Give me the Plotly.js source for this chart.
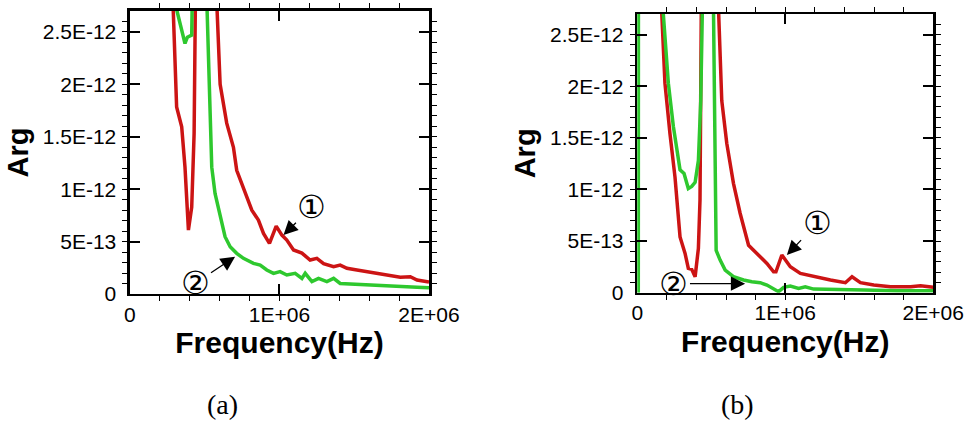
<!DOCTYPE html>
<html>
<head>
<meta charset="utf-8">
<script src="https://cdn.plot.ly/plotly-3.0.1.min.js"></script>
<style>html,body{margin:0;padding:0;background:#fff;}#chart{width:975px;height:426px;}</style>
</head>
<body>
<div id="chart"></div>
<script>
// ---- data (a) ----
const redAx = [270e3, 312e3, 346e3, 368e3, 391e3, 413e3, 429e3, 500e3, 580e3, 603e3, 647e3, 692e3, 714e3, 759e3, 815e3, 859e3, 893e3, 933e3, 978e3, 1016e3, 1049e3, 1094e3, 1150e3, 1205e3, 1250e3, 1295e3, 1362e3, 1406e3, 1451e3, 1518e3, 1585e3, 1652e3, 1719e3, 1808e3, 1875e3, 1920e3, 2000e3];
const redAy = [3.5e-12, 1.785e-12, 1.595e-12, 1.21e-12, 0.61e-12, 0.83e-12, 1.53e-12, 1.2e-11, 2.8e-12, 2.0e-12, 1.63e-12, 1.40e-12, 1.18e-12, 1.02e-12, 0.80e-12, 0.705e-12, 0.578e-12, 0.483e-12, 0.648e-12, 0.562e-12, 0.515e-12, 0.42e-12, 0.39e-12, 0.324e-12, 0.34e-12, 0.29e-12, 0.26e-12, 0.276e-12, 0.245e-12, 0.229e-12, 0.213e-12, 0.197e-12, 0.181e-12, 0.159e-12, 0.165e-12, 0.133e-12, 0.114e-12];
const greenAx = [280e3, 368e3, 384e3, 413e3, 424e3, 470e3, 515e3, 531e3, 547e3, 569e3, 603e3, 636e3, 670e3, 714e3, 759e3, 826e3, 871e3, 915e3, 960e3, 1004e3, 1049e3, 1105e3, 1150e3, 1172e3, 1217e3, 1261e3, 1317e3, 1362e3, 1406e3, 1473e3, 1585e3, 1696e3, 1808e3, 1920e3, 2000e3];
const greenAy = [2.9e-12, 2.39e-12, 2.45e-12, 2.47e-12, 3.5e-12, 1.5e-11, 2.75e-12, 1.85e-12, 1.21e-12, 0.96e-12, 0.737e-12, 0.546e-12, 0.451e-12, 0.388e-12, 0.34e-12, 0.292e-12, 0.276e-12, 0.229e-12, 0.197e-12, 0.213e-12, 0.181e-12, 0.197e-12, 0.149e-12, 0.197e-12, 0.118e-12, 0.149e-12, 0.118e-12, 0.149e-12, 0.10e-12, 0.095e-12, 0.086e-12, 0.076e-12, 0.064e-12, 0.064e-12, 0.06e-12];
// ---- data (b) ----
const redBx = [150e3, 187e3, 221e3, 255e3, 289e3, 323e3, 345e3, 368e3, 391e3, 413e3, 424e3, 490e3, 549e3, 571e3, 605e3, 650e3, 695e3, 752e3, 808e3, 876e3, 921e3, 937e3, 977e3, 1034e3, 1102e3, 1192e3, 1305e3, 1406e3, 1451e3, 1508e3, 1598e3, 1711e3, 1847e3, 1914e3, 2000e3];
const redBy = [3.2e-12, 2.03e-12, 1.54e-12, 1.12e-12, 0.54e-12, 0.38e-12, 0.235e-12, 0.226e-12, 0.155e-12, 0.43e-12, 0.90e-12, 1.5e-11, 2.75e-12, 1.86e-12, 1.445e-12, 1.06e-12, 0.77e-12, 0.46e-12, 0.38e-12, 0.284e-12, 0.203e-12, 0.203e-12, 0.365e-12, 0.252e-12, 0.187e-12, 0.155e-12, 0.123e-12, 0.097e-12, 0.155e-12, 0.097e-12, 0.074e-12, 0.058e-12, 0.058e-12, 0.068e-12, 0.052e-12];
const greenBx = [7e3, 10e3, 176e3, 210e3, 244e3, 266e3, 289e3, 316e3, 345e3, 368e3, 391e3, 413e3, 429e3, 440e3, 480e3, 515e3, 526e3, 533e3, 560e3, 594e3, 650e3, 718e3, 774e3, 831e3, 876e3, 921e3, 955e3, 989e3, 1034e3, 1090e3, 1135e3, 1192e3, 1260e3, 1372e3, 1530e3, 1756e3, 2000e3];
const greenBy = [0, 1e-11, 2.7e-12, 2.03e-12, 1.61e-12, 1.38e-12, 1.19e-12, 1.155e-12, 1.01e-12, 1.03e-12, 1.07e-12, 1.28e-12, 1.86e-12, 2.75e-12, 1.5e-11, 2.75e-12, 1.22e-12, 0.41e-12, 0.316e-12, 0.219e-12, 0.155e-12, 0.123e-12, 0.106e-12, 0.097e-12, 0.074e-12, 0.042e-12, 0.01e-12, 0.052e-12, 0.065e-12, 0.042e-12, 0.058e-12, 0.035e-12, 0.032e-12, 0.026e-12, 0.026e-12, 0.019e-12, 0.019e-12];
// ---- ticks & labels ----
const xTickVals = [0, 1e6, 2e6];
const xTickText = ['0', '1E+06', '2E+06'];
const yTickVals = [0, 5e-13, 1e-12, 1.5e-12, 2e-12, 2.5e-12];
const yTickText = ['0', '5E-13', '1E-12', '1.5E-12', '2E-12', '2.5E-12'];
const xTitle = 'Frequency(Hz)';
const yTitle = 'Arg';
const captions = ['(a)', '(b)'];
const curveLabels = ['\u2460', '\u2461'];

const RED = '#cc1414';
const GREEN = '#2ec82e';

function line(x, y, color, xa, ya) {
  return {x: x, y: y, type: 'scatter', mode: 'lines', xaxis: xa, yaxis: ya,
          line: {color: color, width: 3.5}, showlegend: false, hoverinfo: 'skip'};
}

const data = [
  line(redAx, redAy, RED, 'x', 'y'),
  line(greenAx, greenAy, GREEN, 'x', 'y'),
  line(redBx, redBy, RED, 'x2', 'y2'),
  line(greenBx, greenBy, GREEN, 'x2', 'y2')
];

function xaxis(domain, anchor) {
  return {
    domain: domain, anchor: anchor, range: [0, 2e6],
    tickmode: 'array', tickvals: xTickVals, ticktext: xTickText,
    showline: true, linecolor: 'black', linewidth: 2.5, mirror: 'ticks',
    ticks: 'inside', ticklen: 10, tickwidth: 2, tickcolor: 'black',
    minor: {tickmode: 'linear', tick0: 0, dtick: 2e5, ticklen: 5, tickwidth: 1, tickcolor: 'black', showgrid: false},
    showgrid: false, zeroline: false, automargin: false, ticklabelstandoff: 0,
    tickfont: {family: 'Liberation Sans, Arial, sans-serif', size: 21, color: 'black'},
    title: {text: xTitle, standoff: 8, font: {family: 'Liberation Sans, Arial, sans-serif', size: 30, weight: 'bold', color: 'black'}}
  };
}
function yaxis(domain, anchor) {
  return {
    domain: domain, anchor: anchor, range: [0, 2.7e-12],
    tickmode: 'array', tickvals: yTickVals, ticktext: yTickText,
    showline: true, linecolor: 'black', linewidth: 2.5, mirror: 'ticks',
    ticks: 'inside', ticklen: 10, tickwidth: 2, tickcolor: 'black',
    minor: {tickmode: 'linear', tick0: 0, dtick: 1e-13, ticklen: 5, tickwidth: 1, tickcolor: 'black', showgrid: false},
    showgrid: false, zeroline: false, automargin: false, ticklabelstandoff: 7,
    tickfont: {family: 'Liberation Sans, Arial, sans-serif', size: 21, color: 'black'},
    title: {text: yTitle, standoff: 6, font: {family: 'Liberation Sans, Arial, sans-serif', size: 29, weight: 'bold', color: 'black'}}
  };
}

function marker(text, xr, yr, x, y, ax, ay) {
  return {text: text, xref: xr, yref: yr, axref: xr, ayref: yr, x: x, y: y, ax: ax, ay: ay,
          showarrow: true, arrowhead: 2, arrowsize: 2.2, arrowwidth: 1.3, arrowcolor: 'black',
          font: {family: 'DejaVu Sans, sans-serif', size: 32, color: 'black'}};
}

function caption(text, x) {
  return {text: text, xref: 'paper', yref: 'paper', x: x, y: 0.0493, xanchor: 'center', yanchor: 'middle',
          showarrow: false, font: {family: 'Liberation Serif, Times New Roman, serif', size: 28, color: 'black'}};
}

const layout = {
  width: 975, height: 426,
  margin: {l: 0, r: 0, t: 0, b: 0},
  paper_bgcolor: 'white', plot_bgcolor: 'white',
  xaxis: xaxis([0.1333, 0.4400], 'y'),
  yaxis: yaxis([0.3099, 0.9742], 'x'),
  xaxis2: xaxis([0.6536, 0.9572], 'y2'),
  yaxis2: yaxis([0.3129, 0.9671], 'x2'),
  annotations: [
    marker(curveLabels[0], 'x', 'y', 1.027e6, 0.562e-12, 1.217e6, 0.831e-12),
    marker(curveLabels[1], 'x', 'y', 0.703e6, 0.355e-12, 0.435e6, 0.102e-12),
    marker(curveLabels[0], 'x2', 'y2', 1.011e6, 0.365e-12, 1.215e6, 0.672e-12),
    marker(curveLabels[1], 'x2', 'y2', 0.729e6, 0.088e-12, 0.248e6, 0.088e-12),
    caption(captions[0], 0.2287),
    caption(captions[1], 0.7559)
  ]
};

Plotly.newPlot('chart', data, layout, {staticPlot: true, displayModeBar: false});
</script>
</body>
</html>
